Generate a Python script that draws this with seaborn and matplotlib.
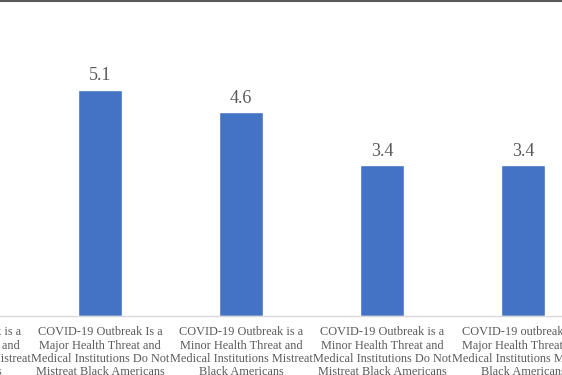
import pandas as pd
import matplotlib.pyplot as plt
import matplotlib.lines as mlines
import seaborn as sns

# categories (leftmost one is mostly cut off in the reference)
categories = [
    "COVID-19 Outbreak is a\nMajor Health Threat and\nMedical Institutions Mistreat\nBlack Americans",
    "COVID-19 Outbreak Is a\nMajor Health Threat and\nMedical Institutions Do Not\nMistreat Black Americans",
    "COVID-19 Outbreak is a\nMinor Health Threat and\nMedical Institutions Mistreat\nBlack Americans",
    "COVID-19 Outbreak is a\nMinor Health Threat and\nMedical Institutions Do Not\nMistreat Black Americans",
    "COVID-19 outbreak is a\nMajor Health Threat and\nMedical Institutions Mistreat\nBlack Americans",
]
values = [5.6, 5.1, 4.6, 3.4, 3.4]

bar_color = "#4472C4"
text_color = "#595959"

df = pd.DataFrame({"category": categories, "value": values})

sns.set_style("white")
plt.rcParams["font.family"] = ["Liberation Serif", "DejaVu Serif"]

fig = plt.figure(figsize=(5.62, 3.75), dpi=100)
# the reference is a crop of a wider chart, so the axes run past the figure edges
ax = fig.add_axes([-0.1984, 0.1573, 1.2544, 0.8427])

sns.barplot(data=df, x="category", y="value", color=bar_color,
            saturation=1, width=0.31, ax=ax, errorbar=None)

ax.bar_label(ax.containers[0], fmt="%.1f", padding=4, fontsize=13,
             color=text_color)

ax.set_xlim(-0.5, 4.5)
ax.set_ylim(0, 7.13)

ax.set_xlabel("")
ax.set_ylabel("")
ax.set_yticks([])
ax.tick_params(axis="x", length=0, pad=7.5, labelsize=8.8, labelcolor=text_color)
for lbl in ax.get_xticklabels():
    lbl.set_linespacing(1.15)

for side in ["left", "right", "top"]:
    ax.spines[side].set_visible(False)
ax.spines["bottom"].set_color("#d9d9d9")
ax.spines["bottom"].set_linewidth(1)

# dark border line along the top edge
fig.add_artist(mlines.Line2D([0, 1], [0.997, 0.997], color="#595959",
                             linewidth=1.5, transform=fig.transFigure))

fig.savefig("out.png", dpi=100)
